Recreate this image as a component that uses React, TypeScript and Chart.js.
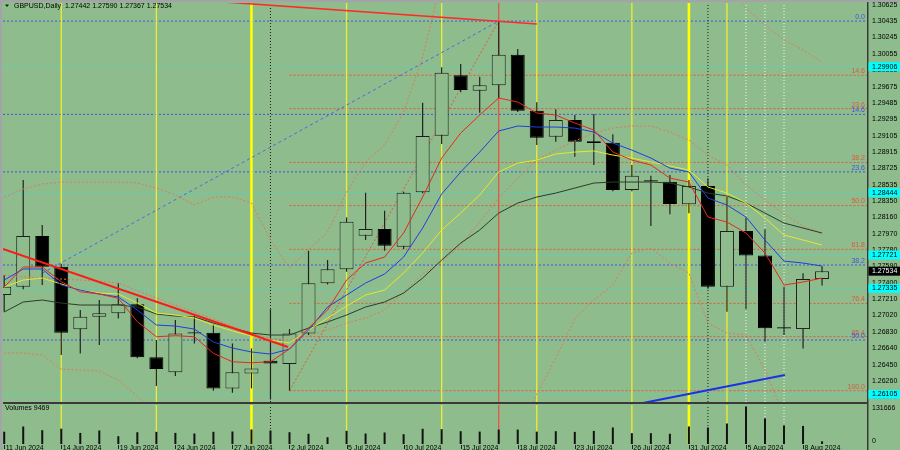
import React, { useEffect, useRef } from "react";
import { Chart, registerables } from "chart.js";

Chart.register(...registerables);

// ---------------- data ----------------
const DATES = [
  "11 Jun 2024", "12 Jun 2024", "13 Jun 2024", "14 Jun 2024", "17 Jun 2024", "18 Jun 2024", "19 Jun 2024",
  "20 Jun 2024", "21 Jun 2024", "24 Jun 2024", "25 Jun 2024", "26 Jun 2024", "27 Jun 2024", "28 Jun 2024",
  "1 Jul 2024", "2 Jul 2024", "3 Jul 2024", "4 Jul 2024", "5 Jul 2024", "8 Jul 2024", "9 Jul 2024",
  "10 Jul 2024", "11 Jul 2024", "12 Jul 2024", "15 Jul 2024", "16 Jul 2024", "17 Jul 2024", "18 Jul 2024",
  "19 Jul 2024", "22 Jul 2024", "23 Jul 2024", "24 Jul 2024", "25 Jul 2024", "26 Jul 2024", "29 Jul 2024",
  "30 Jul 2024", "31 Jul 2024", "1 Aug 2024", "2 Aug 2024", "5 Aug 2024", "6 Aug 2024", "7 Aug 2024",
  "8 Aug 2024", "9 Aug 2024",
];
const DATE_LABEL_STEP = 3;

const OPEN = [
  1.27258, 1.27353, 1.27941, 1.27585, 1.26859, 1.27005, 1.27045, 1.27149, 1.26534, 1.2636,
  1.26812, 1.26819, 1.26174, 1.26348, 1.26495, 1.26456, 1.26812, 1.27393, 1.27555, 1.27945,
  1.28023, 1.27817, 1.28449, 1.29105, 1.29806, 1.29627, 1.2969, 1.30045, 1.29395, 1.29093,
  1.29287, 1.2904, 1.29024, 1.28475, 1.2859, 1.28571, 1.28309, 1.28521, 1.27353, 1.27999,
  1.27717, 1.26882, 1.26862, 1.27442,
];
const HIGH = [
  1.27489, 1.28591, 1.28069, 1.2762, 1.27083, 1.27199, 1.27393, 1.27219, 1.26735, 1.26967,
  1.27013, 1.26917, 1.26696, 1.26638, 1.27091, 1.26862, 1.27771, 1.27663, 1.28158, 1.28444,
  1.28235, 1.28455, 1.29488, 1.29899, 1.29937, 1.2979, 1.30435, 1.30111, 1.29493, 1.29411,
  1.29345, 1.29357, 1.29121, 1.28765, 1.2864, 1.28649, 1.28591, 1.28611, 1.28397, 1.28154,
  1.28019, 1.27353, 1.27509, 1.2759,
];
const LOW = [
  1.27063, 1.27323, 1.27373, 1.26561, 1.2658, 1.26677, 1.26986, 1.26523, 1.26201, 1.26317,
  1.26696, 1.26147, 1.26123, 1.26174, 1.26045, 1.26147, 1.26793, 1.2738, 1.27527, 1.27895,
  1.27771, 1.2779, 1.28437, 1.29009, 1.29609, 1.29372, 1.29539, 1.2938, 1.28997, 1.29035,
  1.28861, 1.28765, 1.2846, 1.2846, 1.28057, 1.28193, 1.28205, 1.2733, 1.27063, 1.27091,
  1.26715, 1.26793, 1.26638, 1.27367,
];
const CLOSE = [
  1.27353, 1.27941, 1.27585, 1.26819, 1.27005, 1.27045, 1.27149, 1.26534, 1.26398, 1.26812,
  1.26825, 1.26174, 1.2636, 1.26406, 1.26464, 1.26812, 1.27393, 1.27555, 1.28107, 1.28023,
  1.27829, 1.28444, 1.29102, 1.29836, 1.29635, 1.2969, 1.30045, 1.29395, 1.29082, 1.29287,
  1.29035, 1.2902, 1.28475, 1.28641, 1.28575, 1.28313, 1.28521, 1.27353, 1.27999, 1.27717,
  1.26871, 1.26868, 1.27442, 1.27534,
];
const VOLUME = [
  43200, 61400, 48500, 53700, 39000, 47400, 27400, 41400, 42800, 39000,
  36900, 42800, 43900, 50900, 47400, 41400, 35800, 23900, 46300, 36900,
  40400, 34400, 53400, 52000, 44900, 43500, 50600, 50600, 43500, 44900,
  42500, 46000, 58000, 38000, 38000, 36000, 61500, 58000, 72000, 131666,
  90000, 65500, 63500, 9469,
];

const MA_RED = [
  1.2735, 1.27582, 1.27582, 1.27411, 1.27295, 1.27269, 1.27219, 1.26947, 1.26773, 1.26785,
  1.26773, 1.26581, 1.26483, 1.26471, 1.26483, 1.2663, 1.26874, 1.27083, 1.27431, 1.27628,
  1.27698, 1.27976, 1.28394, 1.28846, 1.29136, 1.29345, 1.29543, 1.29496, 1.29369, 1.29345,
  1.29253, 1.29171, 1.28916, 1.28823, 1.28765, 1.28614, 1.28568, 1.28162, 1.28104, 1.27976,
  1.27744, 1.27373, 1.27408, 1.27454,
];
const MA_BLUE = [
  1.27431, 1.27559, 1.27559, 1.27373, 1.27315, 1.27269, 1.27234, 1.27083, 1.26909, 1.26897,
  1.26862, 1.26712, 1.26642, 1.26596, 1.26572, 1.2663, 1.26851, 1.27118, 1.27257, 1.27396,
  1.27501, 1.27698, 1.28034, 1.28429, 1.28684, 1.28916, 1.2916, 1.29218, 1.29206, 1.29206,
  1.29194, 1.29148, 1.2902, 1.28939, 1.28846, 1.2873, 1.28684, 1.28382, 1.28301, 1.28162,
  1.27895, 1.27651, 1.27628, 1.27593,
];
const MA_YELLOW = [
  1.2735, 1.27431, 1.27454, 1.27385, 1.27315, 1.2728, 1.27269, 1.27164, 1.27048, 1.27025,
  1.2699, 1.26909, 1.26839, 1.26781, 1.26735, 1.267, 1.26851, 1.2699, 1.27129, 1.27257,
  1.27315, 1.27512, 1.27744, 1.28011, 1.28208, 1.28417, 1.28684, 1.28788, 1.28823, 1.28893,
  1.28916, 1.28928, 1.28881, 1.28846, 1.288, 1.28754, 1.28707, 1.2851, 1.2844, 1.28324,
  1.2815, 1.27953, 1.27895, 1.27837,
];
const MA_DARK = [
  1.2706, 1.27176, 1.27199, 1.27164, 1.27141, 1.27141, 1.27141, 1.27118, 1.27037, 1.27013,
  1.27002, 1.26932, 1.26874, 1.26816, 1.26793, 1.26793, 1.26874, 1.26944, 1.27025, 1.27118,
  1.27176, 1.2728, 1.27454, 1.27663, 1.2786, 1.28011, 1.28208, 1.28324, 1.28394, 1.2844,
  1.28498, 1.28556, 1.28568, 1.28568, 1.28568, 1.28556, 1.2851, 1.2844, 1.28406, 1.28324,
  1.28208, 1.28092, 1.28034, 1.27976,
];
const BB_UPPER = [
  1.28394, 1.28487, 1.28545, 1.28568, 1.28568, 1.28568, 1.28568, 1.28556, 1.28498, 1.28417,
  1.28301, 1.28394, 1.28394, 1.28324, 1.27895, 1.2757, 1.27779, 1.27988, 1.28452, 1.288,
  1.28997, 1.2938, 1.30018, 1.30912, null, null, null, null, null, null,
  null, null, null, null, null, null, null, null, 1.30796, 1.30587,
  1.3039, 1.30215, 1.30099, 1.2996,
];
const BB_MIDDLE = [
  1.27489, 1.27466, 1.27454, 1.27443, 1.27431, 1.27419, 1.27396, 1.27307, 1.27222, 1.27141,
  1.2706, 1.26979, 1.26894, 1.26813, 1.26755, 1.26735, 1.26781, 1.26851, 1.26932, 1.2699,
  1.27083, 1.27292, 1.27501, 1.2764, 1.27837, 1.28104, 1.28382, 1.28614, 1.28823, 1.28939,
  1.29044, 1.29136, 1.29194, 1.29218, 1.29218, 1.29148, 1.29055, 1.28881, 1.28765, 1.28533,
  1.28359, 1.28197, 1.28057, 1.27976,
];
const BB_LOWER = [
  1.26584, 1.26584, 1.26561, 1.26398, 1.26387, 1.26375, 1.26271, 1.26085, 1.25865, null,
  null, null, null, null, null, null, null, null, null, null,
  null, null, null, null, null, null, null, 1.25633, 1.26108, 1.26526,
  1.2698, 1.27199, 1.27373, 1.27744, 1.27802, 1.27628, 1.27512, 1.26932, 1.26816, 1.26793,
  1.26387, 1.25865, null, null,
];

const PRICE_TICKS = [
  1.30625, 1.30435, 1.30245, 1.30055, 1.29865, 1.29675, 1.29485, 1.29295, 1.29105, 1.28915,
  1.28725, 1.28535, 1.2835, 1.2816, 1.2797, 1.2778, 1.2759, 1.274, 1.2721, 1.2702,
  1.2683, 1.2664, 1.2645, 1.2626, 1.2607,
];
const RED_FIB_LABELS = ["14.6", "23.6", "38.2", "50.0", "61.8", "76.4", "85.4", "100.0"];
const RED_FIB_PRICES = [1.29807, 1.2942, 1.28795, 1.28295, 1.27787, 1.2716, 1.26775, 1.26147];
const RED_FIB_START = 15;
const BLUE_FIB_LABELS = ["0.0", "14.6", "23.6", "38.2", "50.0"];
const BLUE_FIB_PRICES = [1.30435, 1.29353, 1.28686, 1.27605, 1.26735];
const CYAN_LEVELS = [1.29906, 1.28444, 1.27721, 1.27335, 1.26105];

const YELLOW_THIN = [3, 8, 18, 23, 28, 33, 38];
const YELLOW_THICK = [13, 36];
const RED_VERTICAL = [26];
const MONTH_START = [14, 37];
const WHITE_DOTTED = [39, 40, 41];

// trend objects: [bar index, price] pairs
const TREND_RED_LOW = [[-0.063, 1.27791], [14.92, 1.26654]];
const TREND_RED_TOP = [[11.35, 1.3066], [28.0, 1.30401]];
const TREND_BLUE = [[33.43, 1.25998], [41.05, 1.26329]];
const FIB_RED_DIAG = [[15, 1.26147], [26, 1.30435]];
const FIB_BLUE_DIAG = [[2, 1.2751], [26, 1.30435]];

// ---------------- view ----------------
const X_MIN = -0.063;
const X_MAX = 45.363;
const Y_MIN = 1.26016;
const Y_MAX = 1.30645;
const VOL_AXIS_MAX = 136930;

const BG = "#8ebc8c";
const AXIS = "#3a3a3a";
const FONT = "7px 'Liberation Sans', Arial, sans-serif";
const CYAN_LINE = "#4fd6c6";
const FIB_RED = "#e2583c";
const FIB_BLUE = "#3a56e6";
const BAND = "#e2785a";

function hline(price: number, x0: number, color: string, dash: number[], order: number) {
  return {
    type: "line",
    data: [{ x: x0, y: price }, { x: X_MAX, y: price }],
    borderColor: color, borderWidth: 1, borderDash: dash,
    pointRadius: 0, order, clip: 0,
  };
}
function vline(idx: number, y0: number, y1: number, color: string, width: number, dash: number[], order: number) {
  return {
    type: "line",
    data: [{ x: idx, y: y0 }, { x: idx, y: y1 }],
    borderColor: color, borderWidth: width, borderDash: dash,
    pointRadius: 0, order, clip: 0,
  };
}
function series(values: (number | null)[], color: string, width: number, dash: number[], order: number) {
  return {
    type: "line",
    data: values.map((v, i) => ({ x: i, y: v })),
    borderColor: color, borderWidth: width, borderDash: dash,
    pointRadius: 0, tension: 0, spanGaps: false, order, clip: 0,
  };
}
function seg(points: number[][], color: string, width: number, dash: number[], order: number) {
  return {
    type: "line",
    data: points.map(([x, y]) => ({ x, y })),
    borderColor: color, borderWidth: width, borderDash: dash,
    pointRadius: 0, order, clip: 0,
  };
}

function verticals(y0: number, y1: number) {
  const out: any[] = [];
  YELLOW_THIN.forEach((i) => out.push(vline(i, y0, y1, "#eeee30", 1.3, [], 28)));
  YELLOW_THICK.forEach((i) => out.push(vline(i, y0, y1, "#ffff00", 2.6, [], 28)));
  RED_VERTICAL.forEach((i) => out.push(vline(i, y0, y1, "#e8503a", 1.2, [], 28)));
  MONTH_START.forEach((i) => out.push(vline(i, y0, y1, "#1a1a1a", 1, [1, 2], 28)));
  WHITE_DOTTED.forEach((i) => out.push(vline(i, y0, y1, "#f6f6f6", 1, [1, 2], 28)));
  return out;
}

function frame(ctx: CanvasRenderingContext2D, w: number, h: number, top: boolean) {
  ctx.fillStyle = "#a4a4a8";
  ctx.fillRect(0, 0, 2, h);
  if (top) ctx.fillRect(0, 0, w, 2);
}

const mainPlugin = {
  id: "mainDecor",
  beforeDraw(chart: any) {
    const { ctx, width, height } = chart;
    ctx.save();
    ctx.fillStyle = BG;
    ctx.fillRect(0, 0, width, height);
    ctx.restore();
  },
  afterDraw(chart: any) {
    const { ctx, chartArea: a, scales, width, height } = chart;
    const y = scales.y;
    ctx.save();
    ctx.font = FONT;

    // fib labels
    ctx.textAlign = "right";
    ctx.textBaseline = "bottom";
    RED_FIB_PRICES.forEach((p, k) => {
      ctx.fillStyle = FIB_RED;
      ctx.fillText(RED_FIB_LABELS[k], a.right - 2, y.getPixelForValue(p) - 0.5);
    });
    BLUE_FIB_PRICES.forEach((p, k) => {
      ctx.fillStyle = FIB_BLUE;
      ctx.fillText(BLUE_FIB_LABELS[k], a.right - 2, y.getPixelForValue(p) - 0.5);
    });

    // right axis
    ctx.fillStyle = AXIS;
    ctx.fillRect(a.right, 0, 1.5, height);
    ctx.fillRect(a.left, a.bottom, a.right - a.left, 2);

    ctx.textAlign = "left";
    ctx.textBaseline = "middle";
    ctx.fillStyle = "#000";
    PRICE_TICKS.forEach((v) => {
      const py = y.getPixelForValue(v);
      ctx.fillText(v.toFixed(5), a.right + 5, py);
    });

    // cyan level boxes
    CYAN_LEVELS.forEach((v) => {
      const py = y.getPixelForValue(v);
      ctx.fillStyle = "#00ffff";
      ctx.fillRect(a.right + 1.5, py - 4.5, width - a.right, 9);
      ctx.fillStyle = "#000";
      ctx.fillText(v.toFixed(5), a.right + 5, py);
    });

    // current price box
    const last = CLOSE[CLOSE.length - 1];
    const lp = y.getPixelForValue(last);
    ctx.fillStyle = "#000";
    ctx.fillRect(a.right + 1.5, lp - 4.5, width - a.right, 9);
    ctx.fillStyle = "#fff";
    ctx.fillText(last.toFixed(5), a.right + 5, lp);

    // header
    const n = OPEN.length - 1;
    ctx.fillStyle = "#1a1a1a";
    ctx.beginPath();
    ctx.moveTo(5, 4.5);
    ctx.lineTo(9, 4.5);
    ctx.lineTo(7, 7);
    ctx.closePath();
    ctx.fill();
    ctx.fillStyle = "#000";
    ctx.fillText(
      `GBPUSD,Daily  ${OPEN[n].toFixed(5)} ${HIGH[n].toFixed(5)} ${LOW[n].toFixed(5)} ${CLOSE[n].toFixed(5)}`,
      14, 6
    );

    frame(ctx, width, height, true);
    ctx.restore();
  },
};

const volPlugin = {
  id: "volDecor",
  beforeDraw(chart: any) {
    const { ctx, width, height } = chart;
    ctx.save();
    ctx.fillStyle = BG;
    ctx.fillRect(0, 0, width, height);
    ctx.restore();
  },
  afterDraw(chart: any) {
    const { ctx, chartArea: a, scales, width, height } = chart;
    const x = scales.x;
    const yv = scales.y;
    ctx.save();
    ctx.font = FONT;
    ctx.fillStyle = AXIS;
    ctx.fillRect(a.right, 0, 1.5, height);

    ctx.fillStyle = "#000";
    ctx.textBaseline = "middle";
    ctx.textAlign = "left";
    ctx.fillText(`Volumes ${VOLUME[VOLUME.length - 1]}`, 5, 4);
    const vmax = Math.max(...VOLUME);
    ctx.fillText(String(vmax), a.right + 5, 4);
    ctx.fillText("0", a.right + 5, yv.getPixelForValue(0) - 3);

    for (let i = 0; i < DATES.length; i += DATE_LABEL_STEP) {
      const px = x.getPixelForValue(i);
      ctx.fillStyle = "#222";
      ctx.fillRect(Math.round(px), a.bottom + 1, 1, 4);
      ctx.fillStyle = "#000";
      ctx.fillText(DATES[i], px + 1.5, a.bottom + 3.6);
    }
    frame(ctx, width, height, false);
    ctx.restore();
  },
};

function mainConfig(): any {
  const ds: any[] = [];
  CYAN_LEVELS.forEach((p) => ds.push(hline(p, X_MIN, CYAN_LINE, [2, 2], 30)));
  BLUE_FIB_PRICES.forEach((p) => ds.push(hline(p, X_MIN, FIB_BLUE, [2, 2], 29)));
  RED_FIB_PRICES.forEach((p) => ds.push(hline(p, RED_FIB_START, FIB_RED, [2, 2], 29)));
  verticals(Y_MIN, Y_MAX).forEach((d) => ds.push(d));
  ds.push(seg(FIB_BLUE_DIAG, "#4a66e8", 1, [3, 3], 27));
  ds.push(seg(FIB_RED_DIAG, FIB_RED, 1, [2, 2], 27));

  ds.push({
    type: "bar",
    data: LOW.map((l, i) => ({ x: i, y: [l, HIGH[i]] })),
    backgroundColor: "#222",
    borderWidth: 0,
    barThickness: 1.2,
    grouped: false,
    inflateAmount: 0,
    order: 12,
  });
  ds.push({
    type: "bar",
    data: OPEN.map((o, i) => ({ x: i, y: [o, CLOSE[i]] })),
    backgroundColor: OPEN.map((o, i) => (CLOSE[i] >= o ? BG : "#000")),
    borderColor: OPEN.map((o, i) => (CLOSE[i] >= o ? "#1e1e1e" : "#000")),
    borderWidth: 1,
    borderSkipped: false,
    barThickness: 14,
    grouped: false,
    inflateAmount: 0,
    order: 11,
  });

  ds.push(series(BB_UPPER, BAND, 1, [2, 2], 6));
  ds.push(series(BB_MIDDLE, BAND, 1, [2, 2], 6));
  ds.push(series(BB_LOWER, BAND, 1, [2, 2], 6));
  ds.push(series(MA_DARK, "#2c3c2c", 1, [], 3.4));
  ds.push(series(MA_YELLOW, "#e8e82a", 1, [], 3.3));
  ds.push(series(MA_BLUE, "#1f3fe0", 1, [], 3.2));
  ds.push(series(MA_RED, "#e8281c", 1, [], 3.1));

  ds.push(seg(TREND_RED_LOW, "#ff1a1a", 2, [], 1));
  ds.push(seg(TREND_RED_TOP, "#ff2a2a", 1.6, [], 1));
  ds.push(seg(TREND_BLUE, "#1a32e6", 2, [], 1));

  return {
    type: "line",
    data: { datasets: ds },
    options: {
      responsive: false,
      animation: false,
      devicePixelRatio: 1,
      events: [],
      layout: { padding: { left: 3, right: 33, top: 3, bottom: 2 } },
      plugins: { legend: { display: false }, tooltip: { enabled: false } },
      scales: {
        x: { type: "linear", min: X_MIN, max: X_MAX, display: false, offset: false },
        y: { type: "linear", min: Y_MIN, max: Y_MAX, display: false },
      },
    },
    plugins: [mainPlugin],
  };
}

function volConfig(): any {
  const ds: any[] = [];
  verticals(0, VOL_AXIS_MAX).forEach((d) => ds.push(d));
  ds.push({
    type: "bar",
    data: VOLUME.map((v, i) => ({ x: i, y: v })),
    backgroundColor: "#121212",
    borderWidth: 0,
    barThickness: 2,
    grouped: false,
    inflateAmount: 0,
    order: 1,
  });
  return {
    type: "line",
    data: { datasets: ds },
    options: {
      responsive: false,
      animation: false,
      devicePixelRatio: 1,
      events: [],
      layout: { padding: { left: 3, right: 33, top: 1, bottom: 6 } },
      plugins: { legend: { display: false }, tooltip: { enabled: false } },
      scales: {
        x: { type: "linear", min: X_MIN, max: X_MAX, display: false, offset: false },
        y: { type: "linear", min: 0, max: VOL_AXIS_MAX, display: false },
      },
    },
    plugins: [volPlugin],
  };
}

export default function App() {
  const mainRef = useRef<HTMLCanvasElement>(null);
  const volRef = useRef<HTMLCanvasElement>(null);
  useEffect(() => {
    const main = new Chart(mainRef.current as HTMLCanvasElement, mainConfig());
    const vol = new Chart(volRef.current as HTMLCanvasElement, volConfig());
    return () => {
      main.destroy();
      vol.destroy();
    };
  }, []);
  return (
    <div style={{ position: "fixed", left: 0, top: 0, width: 900, height: 450, background: BG, overflow: "hidden" }}>
      <canvas ref={mainRef} width={900} height={404}
        style={{ position: "absolute", left: 0, top: 0, width: 900, height: 404 }} />
      <canvas ref={volRef} width={900} height={46}
        style={{ position: "absolute", left: 0, top: 404, width: 900, height: 46 }} />
    </div>
  );
}
